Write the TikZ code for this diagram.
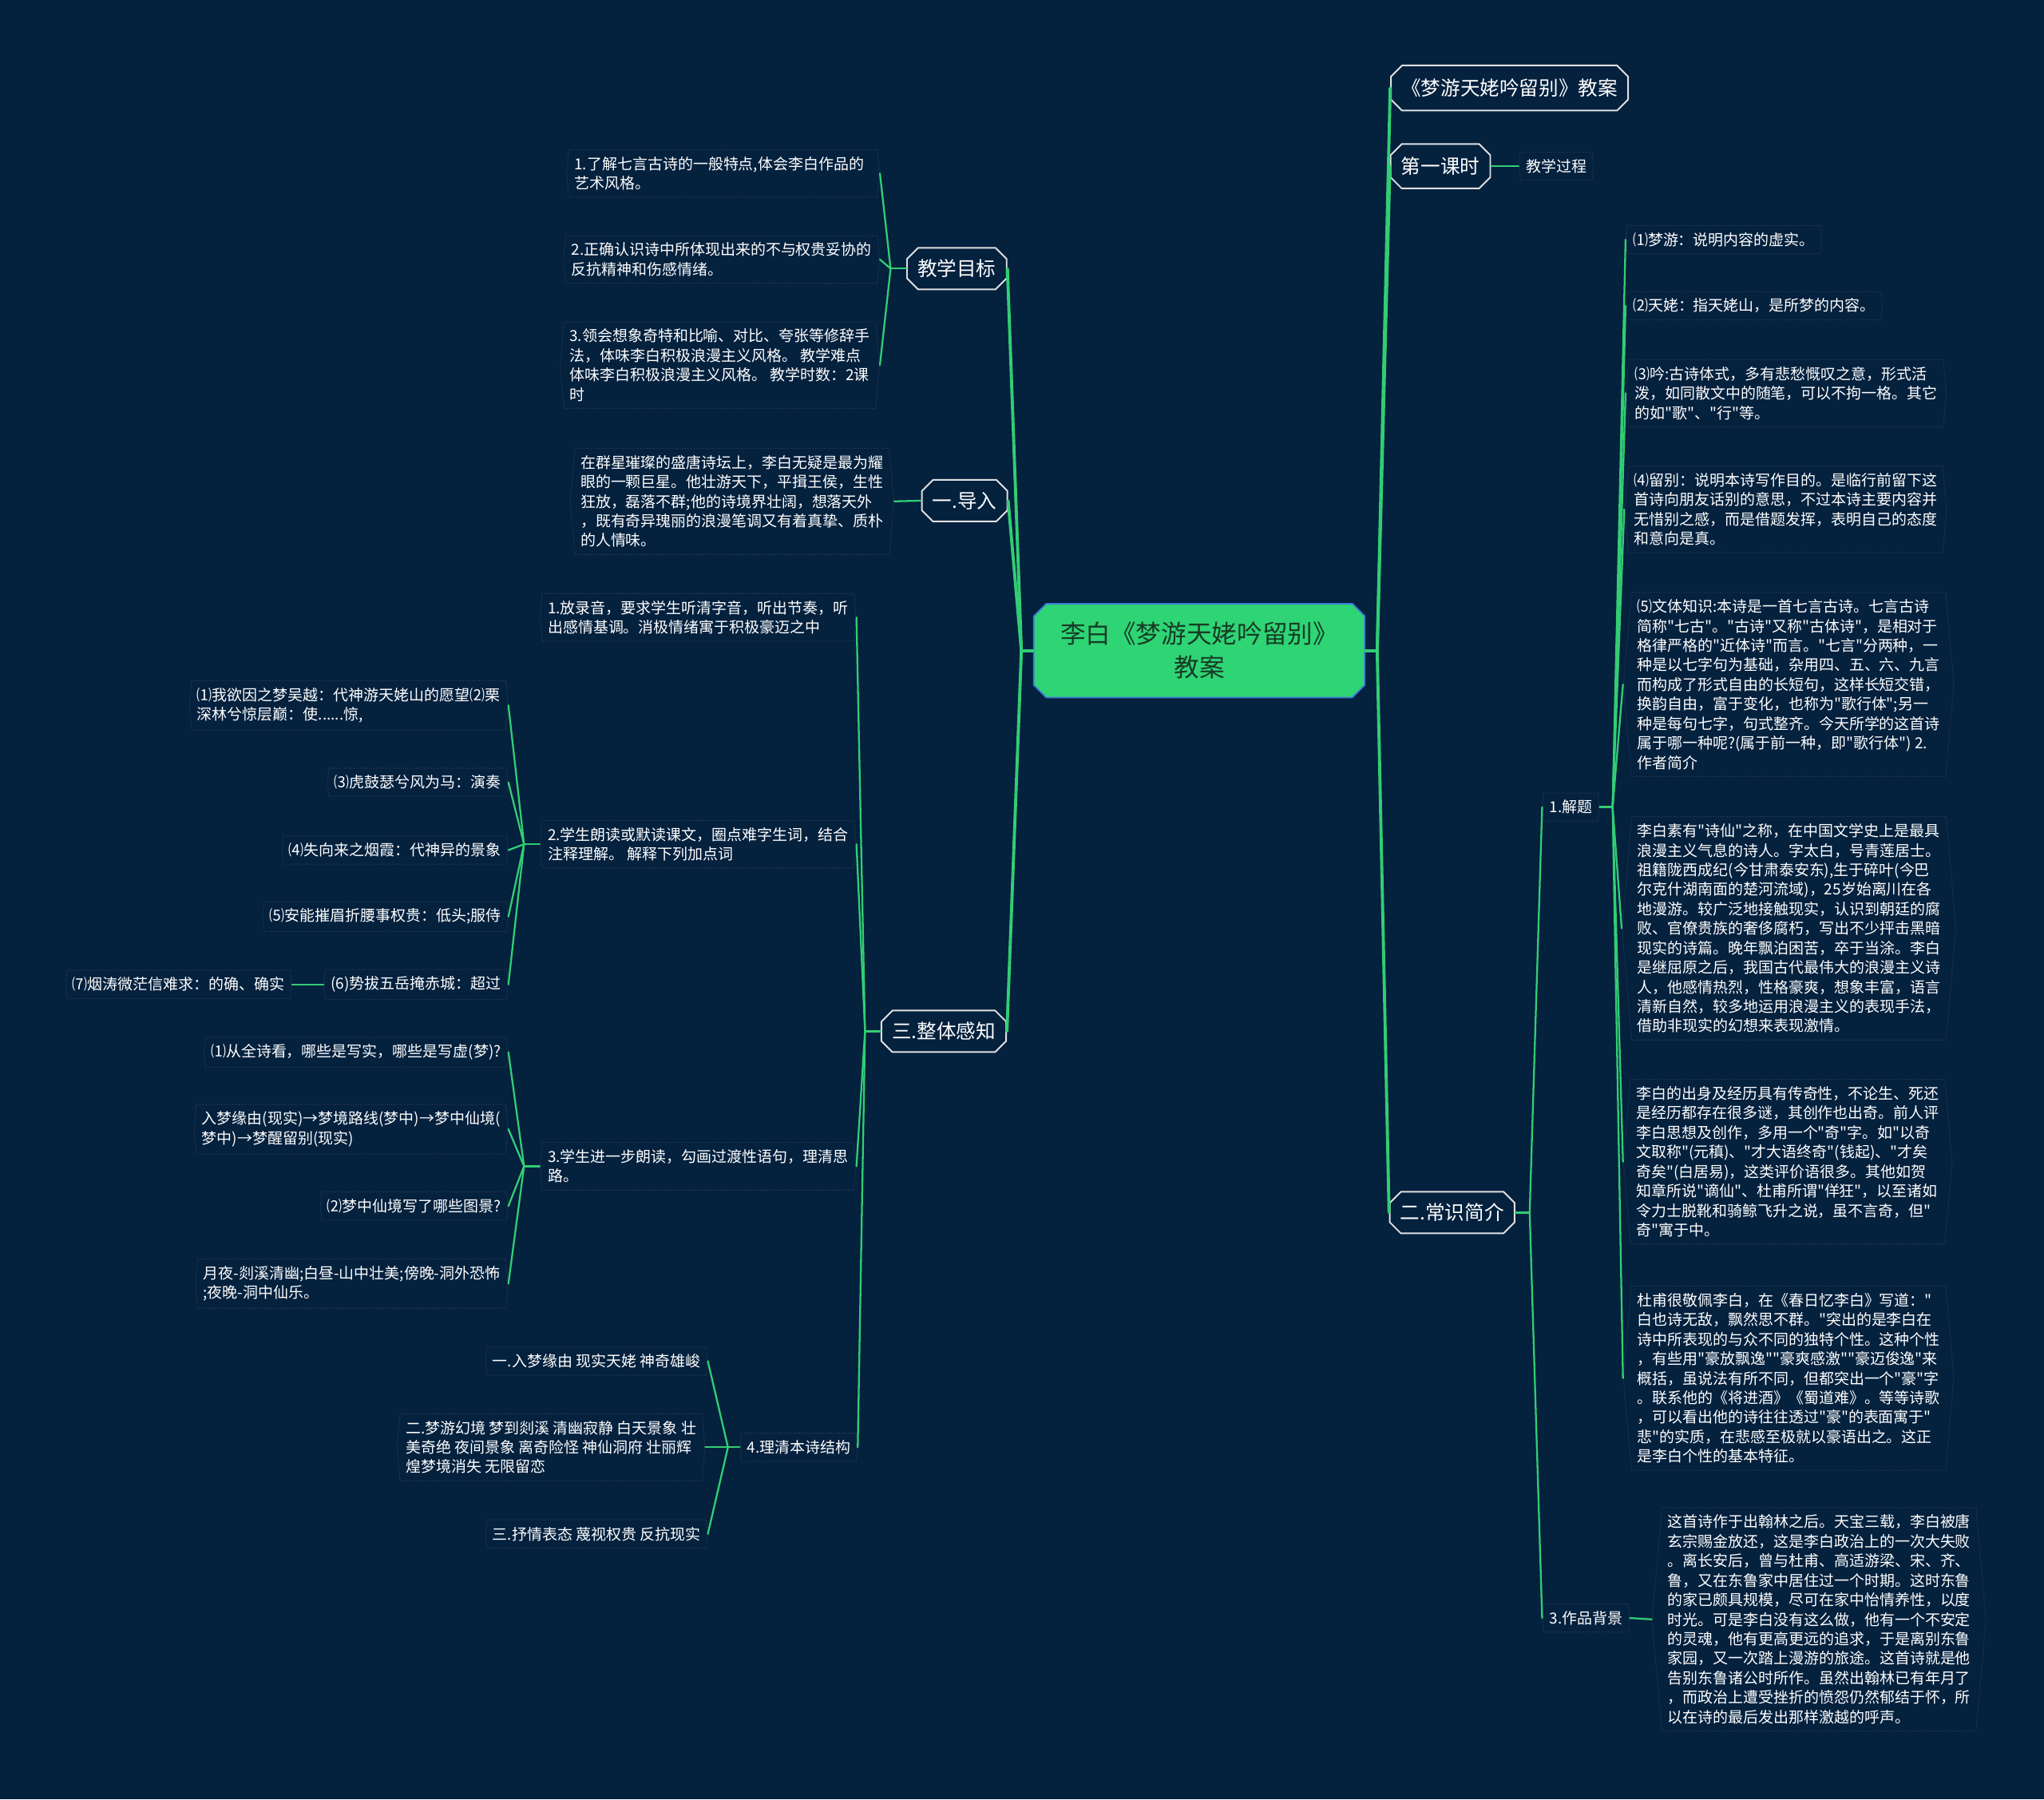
\documentclass[tikz,border=0pt]{standalone}
\usepackage{fontspec}
\usepackage{tikz}
\usetikzlibrary{shapes.misc,shapes.symbols}
\newfontfamily\zhfont{Noto Sans CJK SC}
\definecolor{bgNavy}{RGB}{4,33,62}
\definecolor{linkGreen}{RGB}{50,205,115}
\definecolor{rootGreen}{RGB}{47,212,117}
\definecolor{rootBlue}{RGB}{60,120,215}
\definecolor{rootText}{RGB}{22,60,38}
\definecolor{leafEdge}{RGB}{48,62,84}

\begin{document}
\begin{tikzpicture}[x=0.032653cm, y=-0.032653cm,
      rootbox/.style={chamfered rectangle, chamfered rectangle xsep=6pt, draw=rootBlue, line width=1pt,
        fill=rootGreen, text=rootText, align=center, font=\zhfont\fontsize{18}{24}\selectfont,
        minimum width=8.29cm, minimum height=2.35cm},
      topicbox/.style={chamfered rectangle, chamfered rectangle xsep=5pt, draw=white!88!black, line width=1.1pt,
        fill=bgNavy, text=white, font=\zhfont\fontsize{14}{17}\selectfont, inner xsep=2.5pt, minimum height=1.04cm},
      leafbox/.style={signal, signal to=west and east, signal pointer angle=170, draw=leafEdge, densely dotted,
        line width=0.6pt, text=white, align=left, font=\zhfont\fontsize{10.8}{13.9}\selectfont,
        inner xsep=4pt, inner ysep=5pt},
      trunk/.style={draw=linkGreen, line width=2.2pt, line cap=round},
      twig/.style={draw=linkGreen, line width=1.3pt, line cap=round}]

      % background
      \fill[bgNavy] (0,0) rectangle (1568,1380);

      % centre
      \node[rootbox] (root) at (920,499) {李白《梦游天姥吟留别》\\教案};

      % main topics, left
      \node[topicbox] (goal) at (734,206) {教学目标};
      \node[topicbox] (intro) at (740,384) {一.导入};
      \node[topicbox] (whole) at (724,791) {三.整体感知};

      % main topics, right
      \node[topicbox, minimum height=1.13cm] (title) at (1158,67.5) {《梦游天姥吟留别》教案};
      \node[topicbox, minimum height=1.11cm] (lesson) at (1105,127.5) {第一课时};
      \node[topicbox] (facts) at (1114,930) {二.常识简介};

      \draw[trunk] (root.west) -- ++(-9,0) coordinate (rootL);
      \draw[trunk] (rootL) -- (goal.east);
      \draw[trunk] (rootL) -- (intro.east);
      \draw[trunk] (rootL) -- (whole.east);
      \draw[trunk] (root.east) -- ++(9,0) coordinate (rootR);
      \draw[trunk] (rootR) -- (title.west);
      \draw[trunk] (rootR) -- (lesson.west);
      \draw[trunk] (rootR) -- (facts.west);

      % teaching goals
      \node[leafbox, anchor=east, text width=7.45cm] (goalA) at (675,133) {1.了解七言古诗的一般特点,体会李白作品的\\艺术风格。};
      \node[leafbox, anchor=east] (goalB) at (675,199) {2.正确认识诗中所体现出来的不与权贵妥协的\\反抗精神和伤感情绪。};
      \node[leafbox, anchor=east] (goalC) at (675,280) {3.领会想象奇特和比喻、对比、夸张等修辞手\\法，体味李白积极浪漫主义风格。 教学难点\\体味李白积极浪漫主义风格。 教学时数：2课\\时};
      \draw[twig] (goal.west) -- ++(-12,0) coordinate (goalFork);
      \draw[twig] (goalFork) -- (goalA.east);
      \draw[twig] (goalFork) -- (goalB.east);
      \draw[twig] (goalFork) -- (goalC.east);

      % lead-in
      \node[leafbox, anchor=east] (introText) at (686,384.5) {在群星璀璨的盛唐诗坛上，李白无疑是最为耀\\眼的一颗巨星。他壮游天下，平揖王侯，生性\\狂放，磊落不群;他的诗境界壮阔，想落天外\\，既有奇异瑰丽的浪漫笔调又有着真挚、质朴\\的人情味。};
      \draw[twig] (introText.east) -- (intro.west);

      % overall reading
      \node[leafbox, anchor=east] (listen) at (657,473.5) {1.放录音，要求学生听清字音，听出节奏，听\\出感情基调。消极情绪寓于积极豪迈之中};
      \node[leafbox, anchor=east] (readA) at (657,647.5) {2.学生朗读或默读课文，圈点难字生词，结合\\注释理解。 解释下列加点词};
      \node[leafbox, anchor=east] (readB) at (657,894.5) {3.学生进一步朗读，勾画过渡性语句，理清思\\路。};
      \node[leafbox, anchor=east] (structure) at (658,1110) {4.理清本诗结构};
      \draw[twig] (whole.west) -- ++(-12,0) coordinate (wholeFork);
      \draw[twig] (wholeFork) -- (listen.east);
      \draw[twig] (wholeFork) -- (readA.east);
      \draw[twig] (wholeFork) -- (readB.east);
      \draw[twig] (wholeFork) -- (structure.east);

      % words explained
      \node[leafbox, anchor=east] (wuyue) at (390,541) {⑴我欲因之梦吴越：代神游天姥山的愿望⑵栗\\深林兮惊层巅：使......惊,};
      \node[leafbox, anchor=east] (play) at (390,600) {⑶虎鼓瑟兮风为马：演奏};
      \node[leafbox, anchor=east] (mist) at (390,652) {⑷失向来之烟霞：代神异的景象};
      \node[leafbox, anchor=east] (bow) at (390,703) {⑸安能摧眉折腰事权贵：低头;服侍};
      \node[leafbox, anchor=east] (surpass) at (390,755) {(6)势拔五岳掩赤城：超过};
      \node[leafbox, anchor=east] (indeed) at (224,755) {⑺烟涛微茫信难求：的确、确实};
      \draw[twig] (readA.west) -- ++(-12,0) coordinate (readAFork);
      \draw[twig] (readAFork) -- (wuyue.east);
      \draw[twig] (readAFork) -- (play.east);
      \draw[twig] (readAFork) -- (mist.east);
      \draw[twig] (readAFork) -- (bow.east);
      \draw[twig] (readAFork) -- (surpass.east);
      \draw[twig] (indeed.east) -- (surpass.west);

      % real and dream
      \node[leafbox, anchor=east] (realdream) at (390,807) {⑴从全诗看，哪些是写实，哪些是写虚(梦)?};
      \node[leafbox, anchor=east] (route) at (390,866) {入梦缘由(现实)→梦境路线(梦中)→梦中仙境(\\梦中)→梦醒留别(现实)};
      \node[leafbox, anchor=east] (scenes) at (390,925) {⑵梦中仙境写了哪些图景?};
      \node[leafbox, anchor=east] (nights) at (390,984.5) {月夜-剡溪清幽;白昼-山中壮美;傍晚-洞外恐怖\\;夜晚-洞中仙乐。};
      \draw[twig] (readB.west) -- ++(-12,0) coordinate (readBFork);
      \draw[twig] (readBFork) -- (realdream.east);
      \draw[twig] (readBFork) -- (route.east);
      \draw[twig] (readBFork) -- (scenes.east);
      \draw[twig] (readBFork) -- (nights.east);

      % structure of the poem
      \node[leafbox, anchor=east] (partA) at (543,1044) {一.入梦缘由 现实天姥 神奇雄峻};
      \node[leafbox, anchor=east] (partB) at (541,1110) {二.梦游幻境 梦到剡溪 清幽寂静 白天景象 壮\\美奇绝 夜间景象 离奇险怪 神仙洞府 壮丽辉\\煌梦境消失 无限留恋};
      \node[leafbox, anchor=east] (partC) at (543,1176.5) {三.抒情表态 蔑视权贵 反抗现实};
      \draw[twig] (structure.west) -- ++(-9,0) coordinate (structFork);
      \draw[twig] (structFork) -- (partA.east);
      \draw[twig] (structFork) -- (partB.east);
      \draw[twig] (structFork) -- (partC.east);

      % first lesson
      \node[leafbox, anchor=west] (process) at (1165,127.5) {教学过程};
      \draw[twig] (lesson.east) -- (process.west);

      % background knowledge
      \node[leafbox, anchor=west] (topic) at (1183,619) {1.解题};
      \node[leafbox, anchor=west] (background) at (1183,1241) {3.作品背景};
      \draw[twig] (facts.east) -- ++(11,0) coordinate (factsFork);
      \draw[twig] (factsFork) -- (topic.west);
      \draw[twig] (factsFork) -- (background.west);

      \node[leafbox, anchor=west] (dreamTrip) at (1247,183.7) {⑴梦游：说明内容的虚实。};
      \node[leafbox, anchor=west] (tianmu) at (1247,234.5) {⑵天姥：指天姥山，是所梦的内容。};
      \node[leafbox, anchor=west] (yin) at (1247,301.6) {⑶吟:古诗体式，多有悲愁慨叹之意，形式活\\泼，如同散文中的随笔，可以不拘一格。其它\\的如"歌"、"行"等。};
      \node[leafbox, anchor=west] (farewell) at (1246,390.7) {⑷留别：说明本诗写作目的。是临行前留下这\\首诗向朋友话别的意思，不过本诗主要内容并\\无惜别之感，而是借题发挥，表明自己的态度\\和意向是真。};
      \node[leafbox, anchor=west] (genre) at (1245,525) {⑸文体知识:本诗是一首七言古诗。七言古诗\\简称"七古"。"古诗"又称"古体诗"，是相对于\\格律严格的"近体诗"而言。"七言"分两种，一\\种是以七字句为基础，杂用四、五、六、九言\\而构成了形式自由的长短句，这样长短交错，\\换韵自由，富于变化，也称为"歌行体";另一\\种是每句七字，句式整齐。今天所学的这首诗\\属于哪一种呢?(属于前一种，即"歌行体") 2.\\作者简介};
      \node[leafbox, anchor=west] (immortal) at (1244,712) {李白素有"诗仙"之称，在中国文学史上是最具\\浪漫主义气息的诗人。字太白，号青莲居士。\\祖籍陇西成纪(今甘肃泰安东),生于碎叶(今巴\\尔克什湖南面的楚河流域)，25岁始离川在各\\地漫游。较广泛地接触现实，认识到朝廷的腐\\败、官僚贵族的奢侈腐朽，写出不少抨击黑暗\\现实的诗篇。晚年飘泊困苦，卒于当涂。李白\\是继屈原之后，我国古代最伟大的浪漫主义诗\\人，他感情热烈，性格豪爽，想象丰富，语言\\清新自然，较多地运用浪漫主义的表现手法，\\借助非现实的幻想来表现激情。};
      \node[leafbox, anchor=west] (legend) at (1245,891) {李白的出身及经历具有传奇性，不论生、死还\\是经历都存在很多谜，其创作也出奇。前人评\\李白思想及创作，多用一个"奇"字。如"以奇\\文取称"(元稹)、"才大语终奇"(钱起)、"才矣\\奇矣"(白居易)，这类评价语很多。其他如贺\\知章所说"谪仙"、杜甫所谓"佯狂"，以至诸如\\令力士脱靴和骑鲸飞升之说，虽不言奇，但"\\奇"寓于中。};
      \node[leafbox, anchor=west] (dufu) at (1245,1057) {杜甫很敬佩李白，在《春日忆李白》写道："\\白也诗无敌，飘然思不群。"突出的是李白在\\诗中所表现的与众不同的独特个性。这种个性\\，有些用"豪放飘逸""豪爽感激""豪迈俊逸"来\\概括，虽说法有所不同，但都突出一个"豪"字\\。联系他的《将进酒》《蜀道难》。等等诗歌\\，可以看出他的诗往往透过"豪"的表面寓于"\\悲"的实质，在悲感至极就以豪语出之。这正\\是李白个性的基本特征。};
      \draw[twig] (topic.east) -- ++(10,0) coordinate (topicFork);
      \foreach \leaf in {dreamTrip,tianmu,yin,farewell,genre,immortal,legend,dufu}
        \draw[twig] (topicFork) -- (\leaf.west);

      \node[leafbox, anchor=west] (bgText) at (1267,1242) {这首诗作于出翰林之后。天宝三载，李白被唐\\玄宗赐金放还，这是李白政治上的一次大失败\\。离长安后，曾与杜甫、高适游梁、宋、齐、\\鲁，又在东鲁家中居住过一个时期。这时东鲁\\的家已颇具规模，尽可在家中怡情养性，以度\\时光。可是李白没有这么做，他有一个不安定\\的灵魂，他有更高更远的追求，于是离别东鲁\\家园，又一次踏上漫游的旅途。这首诗就是他\\告别东鲁诸公时所作。虽然出翰林已有年月了\\，而政治上遭受挫折的愤怨仍然郁结于怀，所\\以在诗的最后发出那样激越的呼声。};
      \draw[twig] (background.east) -- (bgText.west);
\end{tikzpicture}
\end{document}
